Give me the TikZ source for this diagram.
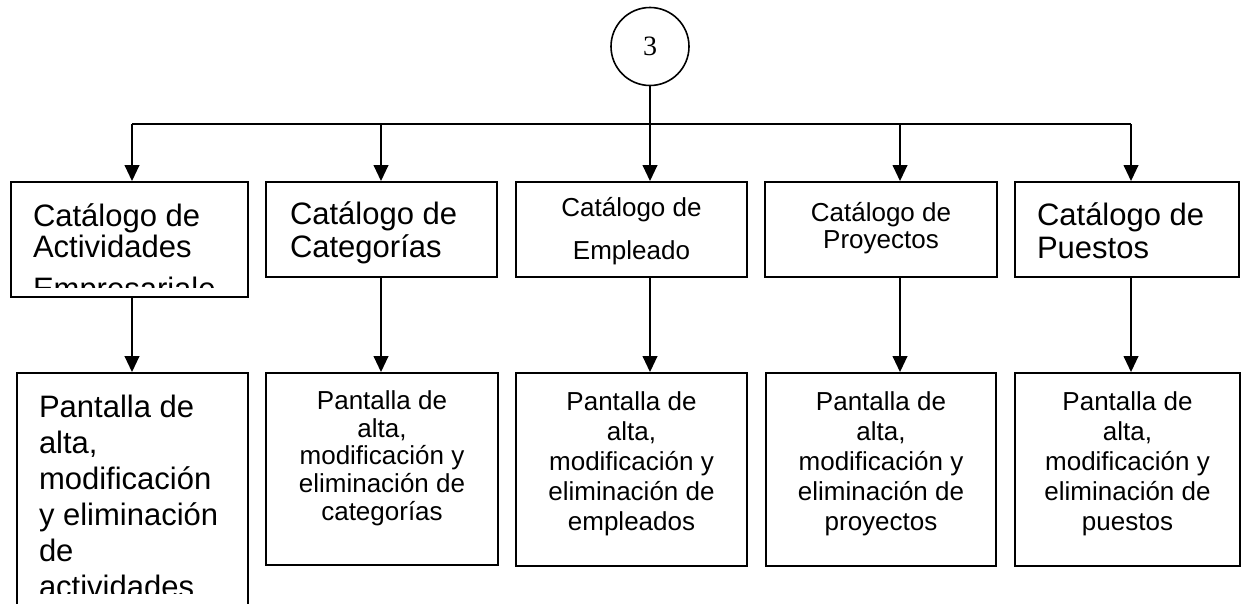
\documentclass[tikz,border=0pt]{standalone}
\usepackage{fontspec}
\setmainfont{Liberation Sans}
\newfontfamily\numfont{Liberation Serif}
\usetikzlibrary{arrows.meta,fit}
\begin{document}
\begin{tikzpicture}[x=0.75pt,y=-0.75pt,
  box/.style={draw, line width=1.4pt, inner sep=0pt},
  link/.style={line width=1.4pt},
  arr/.style={line width=1.4pt, -{Triangle[length=12pt,width=11pt]}},
  txt/.style={inner sep=0pt, outer sep=0pt},
  bigtxt/.style={txt, anchor=base west, align=left, font=\fontsize{23.25}{#1}\selectfont},
  midtxt/.style={txt, anchor=base, align=center, font=\fontsize{19.5}{#1}\selectfont},
]
\path[use as bounding box, clip] (0,0) rectangle (1241,603);

% top circle
\node[draw, circle, line width=1.2pt, minimum size=58.5pt, inner sep=0pt,
      font=\numfont\fontsize{21}{24}\selectfont] (c) at (650,46.5) {3};

% catalog boxes
\node[box, fit={(11,182) (248,297)}] (t1) {};
\node[box, fit={(266,182) (497,277)}] (t2) {};
\node[box, fit={(516,182) (747,277)}] (t3) {};
\node[box, fit={(765,182) (997,277)}] (t4) {};
\node[box, fit={(1015,182) (1239,277)}] (t5) {};

% screen boxes
\node[box, fit={(17,373) (248,640)}] (b1) {};
\node[box, fit={(266,373) (498,565)}] (b2) {};
\node[box, fit={(516,373) (747,566)}] (b3) {};
\node[box, fit={(766,373) (996,566)}] (b4) {};
\node[box, fit={(1015,373) (1240,566)}] (b5) {};

% texts of catalog boxes (anchor = baseline of last line)
\begin{scope}
  \clip (11,182) rectangle (248,287);
  \node[bigtxt=23.25pt] (t1t) at (33,299) {Catálogo de\\Actividades\\[8.25pt]Empresariale};
\end{scope}
\node[bigtxt=24.5pt] (t2t) at (290,257) {Catálogo de\\Categorías};
\node[midtxt=32pt] (t3t) at (631.5,259.5) {Catálogo de\\Empleado};
\node[midtxt=20.25pt] (t4t) at (881,248) {Catálogo de\\Proyectos};
\node[bigtxt=24.5pt] (t5t) at (1037,258) {Catálogo de\\Puestos};

% texts of screen boxes
\begin{scope}
  \clip (17,373) rectangle (248,593);
  \node[bigtxt=27pt] (b1t) at (39,597) {Pantalla de\\alta,\\modificación\\y eliminación\\de\\actividades};
\end{scope}
\node[midtxt=20.9pt] (b2t) at (382,520.6) {Pantalla de\\alta,\\modificación y\\eliminación de\\categorías};
\node[midtxt=22.5pt] (b3t) at (631.5,530) {Pantalla de\\alta,\\modificación y\\eliminación de\\empleados};
\node[midtxt=22.5pt] (b4t) at (881,530) {Pantalla de\\alta,\\modificación y\\eliminación de\\proyectos};
\node[midtxt=22.5pt] (b5t) at (1127.5,530) {Pantalla de\\alta,\\modificación y\\eliminación de\\puestos};

% connectors
\coordinate (h1) at (132,124);
\coordinate (h2) at (381,124);
\coordinate (h4) at (900,124);
\coordinate (h5) at (1131,124);
\draw[link] (h1) -- (h5);
\draw[arr] (c.south) -- (c.south |- t3.north);
\draw[arr] (h1) -- (h1 |- t1.north);
\draw[arr] (h2) -- (h2 |- t2.north);
\draw[arr] (h4) -- (h4 |- t4.north);
\draw[arr] (h5) -- (h5 |- t5.north);

\draw[arr] (t1.south -| h1) -- (h1 |- b1.north);
\draw[arr] (t2.south -| h2) -- (h2 |- b2.north);
\draw[arr] (t3.south -| c.south) -- (c.south |- b3.north);
\draw[arr] (t4.south -| h4) -- (h4 |- b4.north);
\draw[arr] (t5.south -| h5) -- (h5 |- b5.north);
\end{tikzpicture}
\end{document}
